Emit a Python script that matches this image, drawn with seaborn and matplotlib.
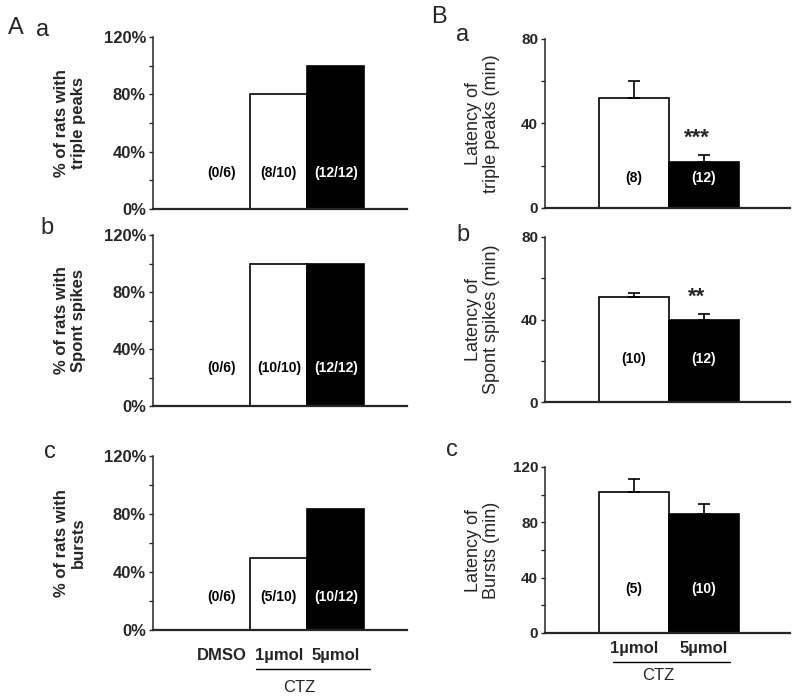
import matplotlib
matplotlib.use("Agg")
import matplotlib.pyplot as plt
import seaborn as sns
import pandas as pd
from matplotlib.lines import Line2D
from matplotlib.ticker import MultipleLocator, FuncFormatter

# ---- data ----
groups_a = ["DMSO", "1\u00b5mol", "5\u00b5mol"]
pct_triple = [0, 80, 100]
pct_spont = [0, 100, 100]
pct_bursts = [0, 50, 83.3]
n_triple = ["(0/6)", "(8/10)", "(12/12)"]
n_spont = ["(0/6)", "(10/10)", "(12/12)"]
n_bursts = ["(0/6)", "(5/10)", "(10/12)"]

groups_b = ["1\u00b5mol", "5\u00b5mol"]
lat_triple = [52, 22]
sem_triple = [8, 3]
lat_spont = [51, 40]
sem_spont = [2, 2.5]
lat_bursts = [102, 86]
sem_bursts = [9, 7]
n_lat_triple = ["(8)", "(12)"]
n_lat_spont = ["(10)", "(12)"]
n_lat_bursts = ["(5)", "(10)"]
stars_triple = ["", "***"]
stars_spont = ["", "**"]

sns.set_style("ticks")
plt.rcParams["font.family"] = ["Liberation Sans", "DejaVu Sans"]

W, H = 800, 699
fig = plt.figure(figsize=(W / 100, H / 100), dpi=100)


def px_axes(x0, x1, ytop, ybot):
    return fig.add_axes([x0 / W, 1 - ybot / H, (x1 - x0) / W, (ybot - ytop) / H])


def style_axes(ax, ymax, major, xlim, tick_size):
    sns.despine(ax=ax)
    ax.spines["left"].set_linewidth(1.1)
    ax.spines["bottom"].set_linewidth(1.6)
    ax.set_ylim(0, ymax)
    ax.set_xlim(*xlim)
    ax.yaxis.set_major_locator(MultipleLocator(major))
    ax.yaxis.set_minor_locator(MultipleLocator(major / 2))
    ax.tick_params(axis="y", which="both", direction="out", length=3, width=1,
                   labelsize=tick_size, pad=2)
    ax.tick_params(axis="x", length=0)
    ax.set_xlabel("")


def bold_ticks(ax):
    for t in ax.get_yticklabels() + ax.get_xticklabels():
        t.set_fontweight("bold")


def pct_panel(ax, vals, counts, ylabel, label_y, show_x):
    df = pd.DataFrame({"group": groups_a, "value": vals})
    sns.barplot(data=df, x="group", y="value", hue="group", order=groups_a,
                palette=["white", "white", "black"], edgecolor="black",
                linewidth=1.2, width=1.0, legend=False, ax=ax)
    style_axes(ax, 120, 40, (-1.21, 3.25), 12)
    ax.yaxis.set_major_formatter(FuncFormatter(lambda v, p: f"{v:.0f}%"))
    for i, txt in enumerate(counts):
        ax.text(i, label_y, txt, ha="center", va="center", fontsize=10,
                fontweight="bold", color="white" if i == 2 else "black")
    ax.set_ylabel(ylabel, fontsize=12, fontweight="bold", linespacing=1.1)
    ax.yaxis.set_label_coords(-0.265, 0.5)
    if show_x:
        ax.set_xticks(range(3))
        ax.set_xticklabels(groups_a, fontsize=12)
        ax.tick_params(axis="x", pad=13)
    else:
        ax.set_xticklabels([])
    bold_ticks(ax)


def lat_panel(ax, vals, sems, counts, stars, ylabel, ymax, label_y, show_x):
    df = pd.DataFrame({"group": groups_b, "value": vals})
    sns.barplot(data=df, x="group", y="value", hue="group", order=groups_b,
                palette=["white", "black"], edgecolor="black",
                linewidth=1.2, width=1.0, legend=False, ax=ax)
    ax.errorbar(range(2), vals, yerr=[[0, 0], sems], fmt="none",
                ecolor="black", elinewidth=1.2, capsize=4, capthick=1.2)
    style_axes(ax, ymax, 40, (-1.27, 2.23), 11)
    for i, txt in enumerate(counts):
        ax.text(i, label_y, txt, ha="center", va="center", fontsize=10,
                fontweight="bold", color="white" if i == 1 else "black")
    for i, s in enumerate(stars):
        if s:
            ax.text(i - 0.1, vals[i] + sems[i] + ymax * 0.04, s, ha="center",
                    va="bottom", fontsize=16, fontweight="bold")
    ax.set_ylabel(ylabel, fontsize=13, linespacing=1.05)
    ax.yaxis.set_label_coords(-0.185, 0.5)
    if show_x:
        ax.set_xticks(range(2))
        ax.set_xticklabels(groups_b, fontsize=12)
        ax.tick_params(axis="x", pad=6)
    else:
        ax.set_xticklabels([])
    bold_ticks(ax)


ax_aa = px_axes(153, 407, 37, 209)
ax_ab = px_axes(153, 407, 235, 406)
ax_ac = px_axes(153, 407, 456, 630)
ax_ba = px_axes(545, 790, 39, 208)
ax_bb = px_axes(545, 790, 237, 402)
ax_bc = px_axes(545, 790, 467, 633)

pct_panel(ax_aa, pct_triple, n_triple, "% of rats with\ntriple peaks", 25, False)
pct_panel(ax_ab, pct_spont, n_spont, "% of rats with\nSpont spikes", 27, False)
pct_panel(ax_ac, pct_bursts, n_bursts, "% of rats with\nbursts", 23, True)

lat_panel(ax_ba, lat_triple, sem_triple, n_lat_triple, stars_triple,
          "Latency of\ntriple peaks (min)", 80, 14, False)
lat_panel(ax_bb, lat_spont, sem_spont, n_lat_spont, stars_spont,
          "Latency of\nSpont spikes (min)", 80, 21, False)
lat_panel(ax_bc, lat_bursts, sem_bursts, n_lat_bursts, ["", ""],
          "Latency of\nBursts (min)", 120, 32, True)

# CTZ brackets
fig.add_artist(Line2D([256 / W, 370 / W], [1 - 669 / H] * 2, color="black", lw=1))
fig.text(299 / W, 1 - 687 / H, "CTZ", ha="center", va="center", fontsize=12)
fig.add_artist(Line2D([613 / W, 730 / W], [1 - 662 / H] * 2, color="black", lw=1))
fig.text(658 / W, 1 - 675 / H, "CTZ", ha="center", va="center", fontsize=12)

# panel letters
for txt, x, y in [("A", 16, 28), ("a", 43, 30), ("b", 47, 228), ("c", 50, 452),
                  ("B", 439, 17), ("a", 463, 35), ("b", 463, 235), ("c", 452, 450)]:
    fig.text(x / W, 1 - y / H, txt, ha="center", va="center", fontsize=17)

fig.savefig("out.png", dpi=100)
